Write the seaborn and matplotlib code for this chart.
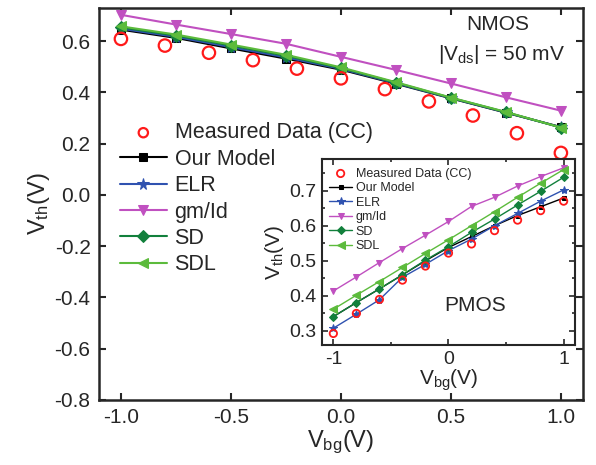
import seaborn as sns
import matplotlib.pyplot as plt
from matplotlib.ticker import MultipleLocator, FormatStrFormatter

# NMOS (main plot)
vbg_meas = [-1.0, -0.8, -0.6, -0.4, -0.2, 0.0, 0.2, 0.4, 0.6, 0.8, 1.0]
nmos_meas = [0.609, 0.583, 0.555, 0.526, 0.493, 0.455, 0.413, 0.365, 0.310, 0.241, 0.164]
vbg_model = [-1.0, -0.75, -0.5, -0.25, 0.0, 0.25, 0.5, 0.75, 1.0]
nmos_our = [0.645, 0.613, 0.572, 0.532, 0.489, 0.434, 0.377, 0.321, 0.265]
nmos_elr = [0.649, 0.617, 0.577, 0.537, 0.492, 0.436, 0.378, 0.322, 0.264]
nmos_gmid = [0.703, 0.665, 0.628, 0.590, 0.539, 0.488, 0.435, 0.381, 0.329]
nmos_sd = [0.654, 0.622, 0.583, 0.543, 0.495, 0.438, 0.379, 0.323, 0.263]
nmos_sdl = [0.658, 0.626, 0.587, 0.547, 0.498, 0.440, 0.380, 0.324, 0.263]

# PMOS (inset)
vbg_p = [-1.0, -0.8, -0.6, -0.4, -0.2, 0.0, 0.2, 0.4, 0.6, 0.8, 1.0]
pmos_meas = [0.293, 0.350, 0.390, 0.445, 0.485, 0.522, 0.548, 0.586, 0.616, 0.643, 0.670]
pmos_our = [0.341, 0.381, 0.420, 0.460, 0.500, 0.538, 0.569, 0.600, 0.629, 0.654, 0.679]
pmos_elr = [0.308, 0.348, 0.389, 0.453, 0.490, 0.529, 0.562, 0.600, 0.635, 0.670, 0.702]
pmos_gmid = [0.414, 0.454, 0.495, 0.535, 0.573, 0.612, 0.655, 0.681, 0.713, 0.740, 0.765]
pmos_sd = [0.341, 0.381, 0.420, 0.460, 0.502, 0.540, 0.581, 0.619, 0.659, 0.698, 0.738]
pmos_sdl = [0.362, 0.402, 0.441, 0.481, 0.521, 0.560, 0.600, 0.640, 0.681, 0.721, 0.760]

labels = ["Measured Data (CC)", "Our Model", "ELR", "gm/Id", "SD", "SDL"]
colors = ["#ff1a1a", "#000000", "#2f52b0", "#c050c0", "#12803c", "#5cbb3c"]
markers = ["o", "s", "*", "v", "D", "<"]

sns.set_style("ticks")
plt.rcParams["font.family"] = ["Liberation Sans", "DejaVu Sans"]
plt.rcParams["mathtext.default"] = "regular"

fig = plt.figure(figsize=(5.96, 4.65), dpi=100)
ax = fig.add_axes([0.166, 0.140, 0.812, 0.843])

models = [nmos_our, nmos_elr, nmos_gmid, nmos_sd, nmos_sdl]
msizes = [5.5, 8.5, 7.5, 6, 7.5]
for vals, lab, c, m, ms in zip(models, labels[1:], colors[1:], markers[1:], msizes):
    sns.lineplot(x=vbg_model, y=vals, ax=ax, color=c, marker=m, markersize=ms,
                 markeredgecolor=c, linewidth=1.5, label=lab)
sns.scatterplot(x=vbg_meas, y=nmos_meas, ax=ax, marker="o", s=80,
                facecolor="none", edgecolor=colors[0], linewidth=1.6,
                label=labels[0], zorder=5)

h, l = ax.get_legend_handles_labels()
order = [l.index(t) for t in labels]
leg = ax.legend([h[i] for i in order], labels, loc="upper left",
                bbox_to_anchor=(0.025, 0.73), frameon=False, fontsize=15.5,
                handlelength=2.2, labelspacing=0.25, handletextpad=0.35,
                borderaxespad=0)
# smaller open circle in the legend, like the original
leg.legend_handles[0].set_sizes([45])

ax.set_xlim(-1.1, 1.1)
ax.set_ylim(-0.8, 0.73)
ax.xaxis.set_major_locator(MultipleLocator(0.5))
ax.yaxis.set_major_locator(MultipleLocator(0.2))
ax.xaxis.set_major_formatter(FormatStrFormatter("%.1f"))
ax.yaxis.set_major_formatter(FormatStrFormatter("%.1f"))
ax.tick_params(direction="in", top=True, right=True, length=5, width=1.5,
               labelsize=15, pad=6)
for s in ax.spines.values():
    s.set_linewidth(1.8)
ax.set_xlabel("V$_{bg}$(V)", fontsize=17, labelpad=1)
ax.set_ylabel("V$_{th}$(V)", fontsize=17, labelpad=2)
ax.text(0.824, 0.957, "NMOS", transform=ax.transAxes, ha="center",
        va="center", fontsize=15)
ax.text(0.963, 0.880, "|V$_{ds}$| = 50 mV", transform=ax.transAxes,
        ha="right", va="center", fontsize=15)

# inset
ins = fig.add_axes([0.540, 0.258, 0.425, 0.400])
pmodels = [pmos_our, pmos_elr, pmos_gmid, pmos_sd, pmos_sdl]
pms = [3.5, 6, 5, 4, 6]
for vals, lab, c, m, ms in zip(pmodels, labels[1:], colors[1:], markers[1:], pms):
    sns.lineplot(x=vbg_p, y=vals, ax=ins, color=c, marker=m, markersize=ms,
                 markeredgecolor=c, linewidth=1.0, label=lab)
sns.scatterplot(x=vbg_p, y=pmos_meas, ax=ins, marker="o", s=28,
                facecolor="none", edgecolor=colors[0], linewidth=1.3,
                label=labels[0], zorder=5)
h, l = ins.get_legend_handles_labels()
order = [l.index(t) for t in labels]
ins.legend([h[i] for i in order], labels, loc="upper left",
           bbox_to_anchor=(0.01, 0.98), frameon=False, fontsize=9,
           handlelength=1.8, labelspacing=0.2, handletextpad=0.3,
           borderaxespad=0)

ins.set_xlim(-1.1, 1.1)
ins.set_ylim(0.26, 0.79)
ins.xaxis.set_major_locator(MultipleLocator(1.0))
ins.xaxis.set_minor_locator(MultipleLocator(0.5))
ins.yaxis.set_major_locator(MultipleLocator(0.1))
ins.yaxis.set_minor_locator(MultipleLocator(0.05))
ins.xaxis.set_major_formatter(FormatStrFormatter("%.0f"))
ins.yaxis.set_major_formatter(FormatStrFormatter("%.1f"))
ins.tick_params(which="both", direction="in", top=True, right=True,
                width=1.2, labelsize=14, pad=4)
ins.tick_params(which="major", length=4)
ins.tick_params(which="minor", length=2.5)
for s in ins.spines.values():
    s.set_linewidth(1.5)
ins.set_xlabel("V$_{bg}$(V)", fontsize=15, labelpad=0)
ins.set_ylabel("V$_{th}$(V)", fontsize=15, labelpad=2)
ins.text(0.605, 0.215, "PMOS", transform=ins.transAxes, ha="center",
         va="center", fontsize=15)

fig.savefig("out.png", dpi=100)
